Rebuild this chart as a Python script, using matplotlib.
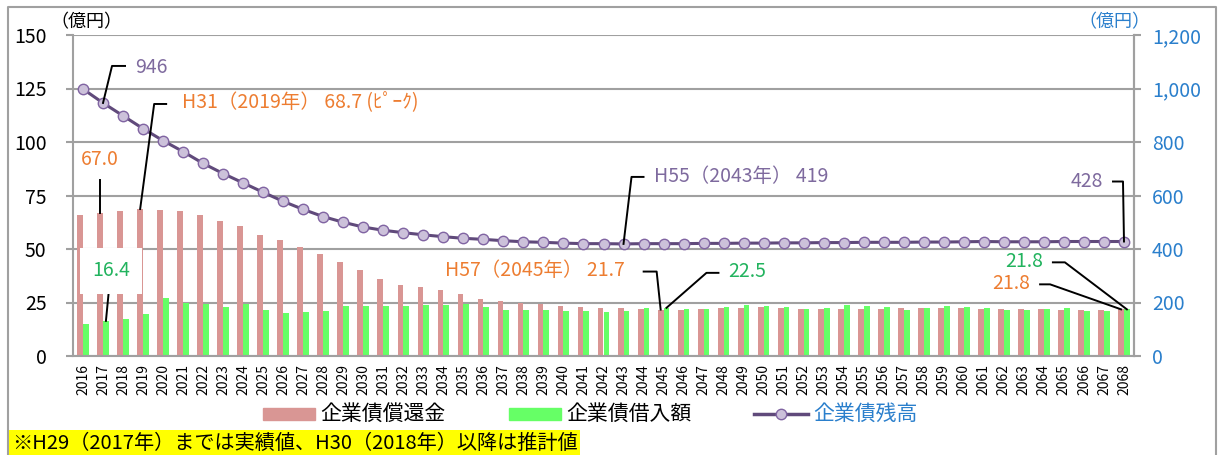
import numpy as np
import matplotlib
matplotlib.use("Agg")
import matplotlib.pyplot as plt
from matplotlib.lines import Line2D
from matplotlib.patches import Rectangle
from matplotlib.ticker import FuncFormatter

plt.rcParams['font.family'] = ['Noto Sans CJK JP', 'DejaVu Sans']

years = list(range(2016, 2069))

# 企業債償還金 (億円)
repay = [66.1, 67.0, 67.6, 68.7, 68.3, 67.6, 66.0, 62.9, 60.7, 56.4,
         54.2, 50.8, 47.5, 43.9, 40.2, 36.2, 33.1, 32.1, 30.7, 29.1,
         26.7, 25.8, 24.8, 24.5, 23.4, 22.8, 22.5, 22.2, 21.9, 21.7,
         21.6, 22.0, 22.3, 22.5, 22.7, 22.3, 22.0, 22.0, 22.0, 21.9,
         22.0, 22.2, 22.2, 22.3, 22.2, 22.0, 22.0, 21.9, 21.9, 21.7,
         21.7, 21.6, 21.8]
# 企業債借入額 (億円)
borrow = [14.9, 16.4, 17.2, 19.7, 27.0, 24.8, 24.1, 23.0, 24.5, 21.4,
          20.0, 20.5, 21.0, 23.3, 23.4, 23.4, 23.4, 23.9, 23.9, 24.1,
          23.0, 21.6, 21.7, 21.7, 21.1, 21.1, 20.6, 21.1, 22.5, 22.5,
          22.0, 22.0, 23.0, 23.6, 23.3, 22.8, 22.0, 22.2, 23.8, 23.4,
          22.8, 21.7, 22.5, 23.3, 22.7, 22.3, 21.6, 21.4, 22.0, 22.3,
          20.9, 20.9, 21.8]
# 企業債残高 (億円, 右軸)
balance = [998, 946, 898, 850, 805, 764, 720, 682, 647, 612,
           578, 548, 521, 500, 482, 470, 461, 453, 446, 440,
           436, 431, 427, 425, 422, 420, 420, 419, 420, 420,
           420, 421, 421, 422, 422, 423, 423, 424, 424, 425,
           425, 425, 426, 426, 427, 428, 427, 427, 427, 428,
           428, 428, 428]

legend_labels = ['企業債償還金', '企業債借入額', '企業債残高']
note = '※H29（2017年）までは実績値、H30（2018年）以降は推計値'

RED = '#D99694'
GREEN = '#66FF66'
LINE = '#604A7B'
MFACE = '#CCC1DA'
MEDGE = '#8064A2'
BLUE = '#2A7FCC'
ORANGE = '#ED7D31'
TGREEN = '#22B35E'
PURPLE = '#7E6A9E'
GRID = '#A0A0A0'

W, H = 1218, 455
fig = plt.figure(figsize=(W / 100, H / 100), dpi=100)
ax = fig.add_axes([73 / W, 1 - 356 / H, (1134 - 73) / W, (356 - 35) / H])

x = np.arange(len(years))
bw = 0.29
ax.bar(x - bw / 2, repay, bw, color=RED, zorder=2)
ax.bar(x + bw / 2, borrow, bw, color=GREEN, zorder=2)
ax.set_xlim(-0.5, len(years) - 0.5)
ax.set_ylim(0, 150)
ax.set_yticks(np.arange(0, 151, 25))
ax.yaxis.grid(True, color=GRID, lw=1.5, zorder=0)
ax.set_axisbelow(True)
ax.set_xticks(x)
ax.set_xticklabels([str(y) for y in years], rotation=90, fontsize=10)
ax.tick_params(axis='x', length=0, pad=6)
ax.tick_params(axis='y', length=5, width=1.5, color=GRID, labelsize=14, pad=14)
ax.spines['top'].set_visible(False)
for s in ['left', 'right', 'bottom']:
    ax.spines[s].set_color(GRID)
    ax.spines[s].set_linewidth(1.5)

ax2 = ax.twinx()
ax2.plot(x, balance, color=LINE, lw=2.2, marker='o', ms=7.5,
         mfc=MFACE, mec=MEDGE, mew=1, zorder=3)
ax2.set_ylim(0, 1200)
ax2.set_yticks(np.arange(0, 1201, 200))
ax2.yaxis.set_major_formatter(FuncFormatter(lambda v, p: f'{int(v):,}'))
ax2.tick_params(axis='y', length=5, width=1.5, color=GRID, labelsize=14,
                labelcolor=BLUE, pad=8)
for s in ['top', 'left', 'bottom']:
    ax2.spines[s].set_visible(False)
ax2.spines['right'].set_color(GRID)
ax2.spines['right'].set_linewidth(1.5)

# unit labels
fig.text(50 / W, 1 - 22 / H, '（億円）', fontsize=13, va='center', ha='left')
fig.text(1150 / W, 1 - 22 / H, '（億円）', fontsize=13, va='center', ha='right',
         color=BLUE)

inv = fig.transFigure.inverted()


def leader(axis, xd, yd, offs, text, color, tdx, tdy, ha, box=False):
    px, py = axis.transData.transform((xd, yd))
    pts = [(px, py)] + [(px + dx, py + dy) for dx, dy in offs]
    fpts = inv.transform(pts)
    fig.add_artist(Line2D(fpts[:, 0], fpts[:, 1], color='black', lw=1.4,
                          zorder=5))
    tx, ty = inv.transform((px + tdx, py + tdy))
    kw = {}
    if box:
        kw['bbox'] = dict(facecolor='white', edgecolor='none', pad=9)
    fig.text(tx, ty, text, color=color, fontsize=14, ha=ha, va='center',
             zorder=6, **kw)


i17 = years.index(2017)
i19 = years.index(2019)
i43 = years.index(2043)
i45 = years.index(2045)
i68 = years.index(2068)

leader(ax2, i17, balance[i17], [(9, 37), (22, 37)], '946', PURPLE, 32, 35, 'left')
leader(ax, i19 - bw / 2, repay[i19], [(14, 105), (26, 105)],
       'H31（2019年） 68.7 (ﾋﾟｰｸ)', ORANGE, 42, 106, 'left')
leader(ax, i17 - bw / 2, repay[i17], [(0, 33)], '67.0', ORANGE, 0, 53, 'center')
leader(ax, i17 + bw / 2, borrow[i17], [(3, 31)], '16.4', TGREEN, 5, 50,
       'center', box=True)
leader(ax2, i43, balance[i43], [(8, 67), (20, 67)], 'H55（2043年） 419',
       PURPLE, 30, 67, 'left')
leader(ax, i45 - bw / 2, repay[i45], [(-4, 38), (-17, 38)], 'H57（2045年） 21.7',
       ORANGE, -36, 39, 'right')
leader(ax, i45 + bw / 2, borrow[i45], [(40, 35), (52, 35)], '22.5', TGREEN,
       62, 36, 'left')
leader(ax2, i68, balance[i68], [(-1, 60), (-11, 60)], '428', PURPLE, -21, 60,
       'right')
leader(ax, i68 + bw / 2, borrow[i68], [(-62, 47), (-74, 47)], '21.8', TGREEN,
       -84, 48, 'right')
leader(ax, i68 - bw / 2, repay[i68], [(-71, 25), (-81, 25)], '21.8', ORANGE,
       -91, 26, 'right')

# legend (drawn by hand to keep Excel-like spacing)
ly = 1 - 414 / H
ph = 12.5 / H
fig.add_artist(Rectangle((263 / W, ly - ph / 2), 52 / W, ph, color=RED))
fig.text(320 / W, ly, legend_labels[0], fontsize=15, va='center')
fig.add_artist(Rectangle((509 / W, ly - ph / 2), 52 / W, ph, color=GREEN))
fig.text(566 / W, ly, legend_labels[1], fontsize=15, va='center')
fig.add_artist(Line2D([754 / W, 808 / W], [ly, ly], color=LINE, lw=2.5))
fig.add_artist(Line2D([781 / W], [ly], marker='o', ms=7.5, mfc=MFACE,
                      mec=MEDGE, mew=1))
fig.text(813 / W, ly, legend_labels[2], fontsize=15, va='center', color=BLUE)

# footnote
fig.text(12 / W, 1 - 443 / H, note, fontsize=14.5, va='center', ha='left',
         bbox=dict(facecolor='#FFFF00', edgecolor='none', pad=2))

# outer frame
fig.add_artist(Line2D([8 / W, 8 / W, 1216 / W, 1216 / W],
                      [0, 1 - 7 / H, 1 - 7 / H, 0], color=GRID, lw=1.5))

fig.savefig('out.png', dpi=100)
